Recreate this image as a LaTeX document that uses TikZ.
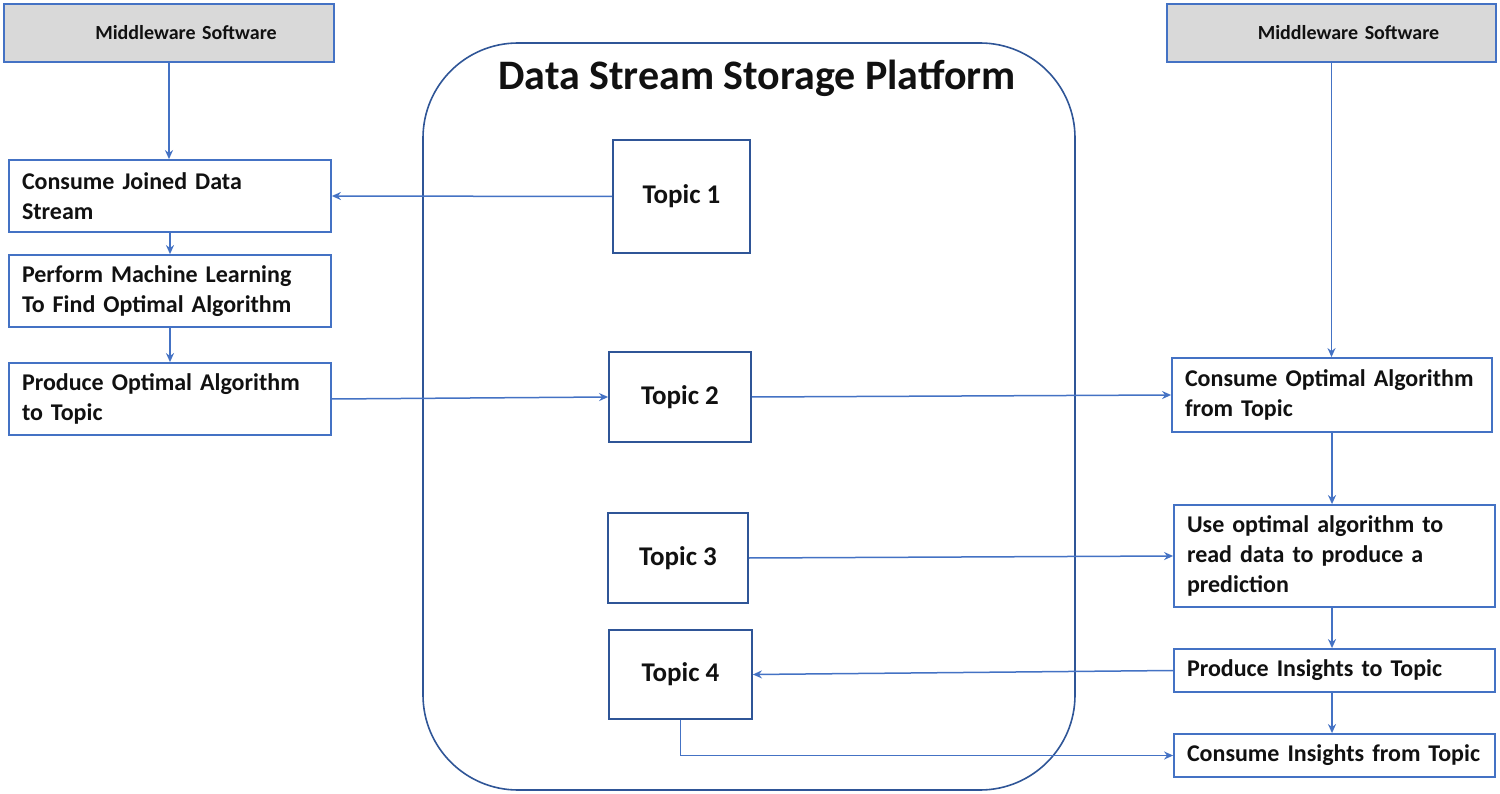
\documentclass[tikz,border=0pt]{standalone}
\usepackage{fontspec}
\setmainfont{Carlito}
\usetikzlibrary{arrows.meta,calc}
\definecolor{lineblue}{HTML}{4472C4}
\definecolor{platblue}{HTML}{2F5597}
\definecolor{mwgray}{HTML}{D9D9D9}
\definecolor{txt}{HTML}{111111}
\begin{document}
\begin{tikzpicture}[x=1pt,y=-1pt,
  box/.style={draw=lineblue,line width=1.8pt,fill=white,inner xsep=13pt,inner ysep=0pt,
    align=left,font=\fontsize{24}{30}\selectfont\bfseries,text=txt},
  mwbox/.style={draw=lineblue,line width=1.8pt,fill=mwgray,inner xsep=0pt,inner ysep=0pt,
    minimum width=330pt,minimum height=58pt,text width=330pt,align=center,
    font=\fontsize{20}{24}\selectfont\bfseries,text=txt},
  topicbox/.style={draw=platblue,line width=1.8pt,fill=white,inner sep=0pt,
    font=\fontsize{27}{30}\selectfont\bfseries,text=txt},
  conn/.style={draw=lineblue,line width=1.5pt,-{Stealth[length=9pt,width=8pt]}}]
\fill[white] (0,0) rectangle (1500,794);
\useasboundingbox (0,0) rectangle (1500,794);

% platform
\node[draw=platblue,line width=1.6pt,rounded corners=95pt,minimum width=652pt,minimum height=747pt,inner sep=0pt] (plat) at (749,416.5) {};
\node[font=\fontsize{42}{46}\selectfont\bfseries,text=txt] (title) at (757,78) {Data Stream Storage Platform};

% left column
\node[mwbox] (mwL) at (169,33) {\hspace*{34pt}Middleware Software};
\node[box,text width=296pt,minimum height=72pt] (cjd) at (170,196) {Consume Joined Data\\Stream};
\node[box,text width=296pt,minimum height=72pt] (pml) at (170,291) {Perform Machine Learning\\To Find Optimal Algorithm};
\node[box,text width=296pt,minimum height=72pt] (poa) at (170,399) {Produce Optimal Algorithm\\to Topic};

% topics
\node[topicbox,minimum width=137pt,minimum height=113pt] (t1) at (681.5,196.5) {Topic 1};
\node[topicbox,minimum width=142pt,minimum height=90pt] (t2) at (680,397) {Topic 2};
\node[topicbox,minimum width=140pt,minimum height=90pt] (t3) at (678,558) {Topic 3};
\node[topicbox,minimum width=143pt,minimum height=89pt] (t4) at (680.5,674.5) {Topic 4};

% right column
\node[mwbox,minimum width=329pt,text width=329pt] (mwR) at (1331.5,33) {\hspace*{34pt}Middleware Software};
\node[box,text width=294pt,minimum height=74pt] (coa) at (1332,395) {Consume Optimal Algorithm\\from Topic};
\node[box,text width=295pt,minimum height=102pt] (uoa) at (1334.5,556) {Use optimal algorithm to\\read data to produce a\\prediction};
\node[box,text width=295pt,minimum height=43pt] (pit) at (1334.5,670.5) {Produce Insights to Topic};
\node[box,text width=295pt,minimum height=43pt] (cit) at (1334.5,755.5) {Consume Insights from Topic};

% connectors
\draw[conn] (mwL.south) -- (mwL.south |- cjd.north);
\draw[conn] (cjd.south) -- (pml.north);
\draw[conn] (pml.south) -- (poa.north);
\draw[conn] (t1.west) -- (cjd.east);
\draw[conn] (poa.east) -- (t2.west);
\draw[conn] (t2.east) -- (coa.west);
\draw[conn] (t3.east) -- (uoa.west);
\draw[conn] (pit.west) -- (t4.east);
\draw[conn] (t4.south) |- (cit.west);
\draw[conn] (mwR.south) -- (mwR.south |- coa.north);
\draw[conn] (coa.south) -- (coa.south |- uoa.north);
\draw[conn] (uoa.south -| coa.south) -- (coa.south |- pit.north);
\draw[conn] (pit.south -| coa.south) -- (coa.south |- cit.north);
\end{tikzpicture}
\end{document}
